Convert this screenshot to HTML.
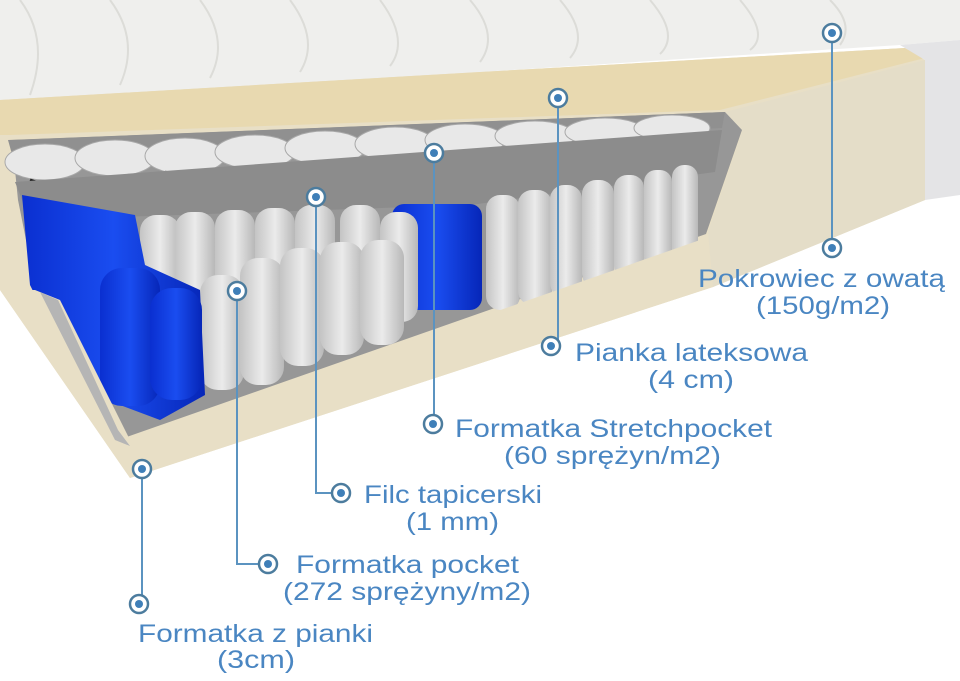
<!DOCTYPE html>
<html><head><meta charset="utf-8"><style>
html,body{margin:0;padding:0;background:#fff;}
svg{display:block;}
text{font-family:"Liberation Sans",Arial,sans-serif;fill:#4a86c2;font-size:25px;}
</style></head><body>
<svg width="960" height="681" viewBox="0 0 960 681" xmlns="http://www.w3.org/2000/svg">
<defs>
<linearGradient id="sp" x1="0" x2="1"><stop offset="0" stop-color="#c4c4c4"/><stop offset=".5" stop-color="#ebebeb"/><stop offset="1" stop-color="#b8b8b8"/></linearGradient>
<linearGradient id="bl" x1="0" x2="1"><stop offset="0" stop-color="#0a2fd0"/><stop offset=".5" stop-color="#1a4df0"/><stop offset="1" stop-color="#0626b8"/></linearGradient>
</defs>
<!-- cover -->
<polygon points="0,0 960,0 960,40 900,45 480,72 0,102" fill="#efefed"/>
<g fill="none" stroke="#dcdcd8" stroke-width="2">
<path d="M20,0 q30,40 10,95 M110,0 q30,40 10,85 M200,0 q30,40 10,78 M290,0 q30,40 10,72 M380,0 q30,40 10,66 M470,0 q30,35 10,62 M560,0 q30,35 10,58 M650,0 q30,35 10,54 M740,0 q30,35 10,50 M830,0 q25,25 10,45"/>
</g>
<!-- beige frame -->
<polygon points="0,100 480,72 905,48 925,60 925,200 713,287 130,478 0,290" fill="#e8dfc6"/>
<polygon points="0,100 480,72 905,48 925,58 720,110 10,135 0,135" fill="#e8d9b0"/>
<polygon points="725,112 925,60 925,200 713,287 708,232 742,132" fill="#e4ddc8"/>
<polygon points="900,45 960,40 960,195 925,200 925,60" fill="#e4e4e6"/>
<!-- cavity -->
<polygon points="12,140 725,112 742,130 706,234 118,440 38,300 18,200" fill="#979797"/>
<!-- top felt + upper pockets -->
<polygon points="8,140 725,112 722,128 15,165" fill="#909090"/>
<g fill="#e8e8e8" stroke="#a8a8a8">
<ellipse cx="45" cy="162" rx="40" ry="18"/><ellipse cx="115" cy="158" rx="40" ry="18"/><ellipse cx="185" cy="156" rx="40" ry="18"/><ellipse cx="255" cy="152" rx="40" ry="17"/><ellipse cx="325" cy="148" rx="40" ry="17"/><ellipse cx="395" cy="144" rx="40" ry="17"/><ellipse cx="465" cy="140" rx="40" ry="16"/><ellipse cx="535" cy="136" rx="40" ry="15"/><ellipse cx="605" cy="132" rx="40" ry="14"/><ellipse cx="672" cy="128" rx="38" ry="13"/>
</g>
<g fill="none" stroke="#222" stroke-width="3">
<path d="M30,180 q20,8 42,0 M32,186 q20,8 42,0 M165,172 q20,8 42,0 M167,178 q20,8 42,0 M300,165 q20,8 42,0 M302,171 q20,8 42,0 M440,160 q20,8 42,0 M442,166 q20,8 42,0 M570,155 q20,8 42,0 M572,161 q20,8 42,0"/>
</g>
<!-- felt board -->
<polygon points="15,182 722,130 715,172 470,205 30,220" fill="#8c8c8c"/>
<!-- right grey springs -->
<g fill="url(#sp)">
<rect x="486" y="195" width="34" height="115" rx="14"/><rect x="518" y="190" width="34" height="115" rx="14"/><rect x="550" y="185" width="32" height="112" rx="14"/><rect x="582" y="180" width="32" height="108" rx="14"/><rect x="614" y="175" width="30" height="104" rx="13"/><rect x="644" y="170" width="28" height="100" rx="12"/><rect x="672" y="165" width="26" height="95" rx="12"/>
</g>
<rect x="392" y="204" width="90" height="106" rx="12" fill="url(#bl)"/>
<!-- mid grey springs grid -->
<g fill="url(#sp)">
<rect x="140" y="215" width="40" height="80" rx="16"/><rect x="175" y="212" width="40" height="90" rx="16"/><rect x="215" y="210" width="40" height="100" rx="16"/><rect x="255" y="208" width="40" height="110" rx="16"/><rect x="295" y="205" width="40" height="125" rx="16"/><rect x="340" y="205" width="40" height="130" rx="16"/><rect x="380" y="212" width="38" height="110" rx="16"/>
<rect x="200" y="275" width="44" height="115" rx="18"/><rect x="240" y="258" width="44" height="127" rx="18"/><rect x="280" y="248" width="44" height="118" rx="18"/><rect x="320" y="242" width="44" height="113" rx="18"/><rect x="360" y="240" width="44" height="105" rx="18"/>
</g>
<!-- blue block -->
<g fill="url(#bl)">
<polygon points="22,195 135,215 145,265 200,290 205,395 160,420 120,405 60,345 30,285"/>
<rect x="100" y="268" width="60" height="138" rx="22"/><rect x="150" y="288" width="52" height="112" rx="22"/>
</g>
<!-- bottom beige lip -->
<polygon points="35,290 60,300 120,420 130,440 700,240 713,287 130,478 0,290" fill="#e8dfc6"/>
<polygon points="40,292 115,440 130,446 118,430 58,300" fill="#b5b5b5"/>
<!-- connectors -->
<g stroke="#5b93c0" stroke-width="2" fill="none">
<path d="M832,33 V248"/><path d="M558,98 V340 L551,346"/><path d="M434,153 V424"/><path d="M316,197 V493 H341"/><path d="M237,291 V564 H268"/><path d="M142,469 V604"/>
</g>
<g fill="#fff" stroke="#4c7c9e" stroke-width="2.5">
<circle cx="832" cy="33" r="9"/><circle cx="832" cy="248" r="9"/><circle cx="558" cy="98" r="9"/><circle cx="551" cy="346" r="9"/><circle cx="434" cy="153" r="9"/><circle cx="433" cy="424" r="9"/><circle cx="316" cy="197" r="9"/><circle cx="341" cy="493" r="9"/><circle cx="237" cy="291" r="9"/><circle cx="268" cy="564" r="9"/><circle cx="142" cy="469" r="9"/><circle cx="139" cy="604" r="9"/>
</g>
<g fill="#3f7fb8">
<circle cx="832" cy="33" r="4"/><circle cx="832" cy="248" r="4"/><circle cx="558" cy="98" r="4"/><circle cx="551" cy="346" r="4"/><circle cx="434" cy="153" r="4"/><circle cx="433" cy="424" r="4"/><circle cx="316" cy="197" r="4"/><circle cx="341" cy="493" r="4"/><circle cx="237" cy="291" r="4"/><circle cx="268" cy="564" r="4"/><circle cx="142" cy="469" r="4"/><circle cx="139" cy="604" r="4"/>
</g>
<!-- labels -->
<text x="698" y="287" textLength="247" lengthAdjust="spacingAndGlyphs">Pokrowiec z owatą</text>
<text x="756" y="314" textLength="134" lengthAdjust="spacingAndGlyphs">(150g/m2)</text>
<text x="575" y="361" textLength="233" lengthAdjust="spacingAndGlyphs">Pianka lateksowa</text>
<text x="648" y="388" textLength="86" lengthAdjust="spacingAndGlyphs">(4 cm)</text>
<text x="455" y="437" textLength="317" lengthAdjust="spacingAndGlyphs">Formatka Stretchpocket</text>
<text x="504" y="464" textLength="217" lengthAdjust="spacingAndGlyphs">(60 sprężyn/m2)</text>
<text x="364" y="503" textLength="178" lengthAdjust="spacingAndGlyphs">Filc tapicerski</text>
<text x="406" y="530" textLength="93" lengthAdjust="spacingAndGlyphs">(1 mm)</text>
<text x="296" y="573" textLength="223" lengthAdjust="spacingAndGlyphs">Formatka pocket</text>
<text x="283" y="600" textLength="248" lengthAdjust="spacingAndGlyphs">(272 sprężyny/m2)</text>
<text x="138" y="642" textLength="235" lengthAdjust="spacingAndGlyphs">Formatka z pianki</text>
<text x="217" y="668" textLength="78" lengthAdjust="spacingAndGlyphs">(3cm)</text>
</svg>
</body></html>
